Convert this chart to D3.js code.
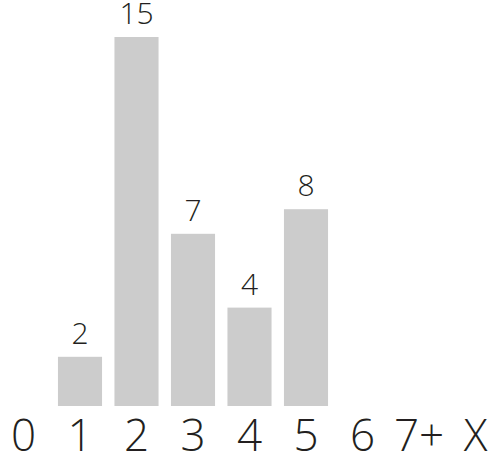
<!DOCTYPE html>
<html>
<head>
<meta charset="utf-8">
<script src="https://cdn.jsdelivr.net/npm/d3@7"></script>
<style>
  body { margin: 0; background: #fff; }
  svg { display: block; }
  text { font-family: "Open Sans", "Noto Sans", sans-serif; font-weight: 300; fill: #231f20; }
</style>
</head>
<body>
<svg id="chart" width="497" height="452"></svg>
<script>
const categories = ["0", "1", "2", "3", "4", "5", "6", "7+", "X"];
const counts = [0, 2, 15, 7, 4, 8, 0, 0, 0];

const width = 497,
    height = 452,
    baseline = 406

const svg = d3.select("#chart");

const x = d3.scaleBand()
    .domain(categories)
    .range([-4.75, 503.75])
    .paddingInner(0.22)
    .paddingOuter(0.11);

const y = d3.scaleLinear()
    .domain([0, 15])
    .range([baseline, 37]);

const data = categories.map((c, i) => ({cat: c, value: counts[i]}));
const shown = data.filter(d => d.value > 0);

svg.append("g")
    .selectAll("rect")
    .data(shown)
    .join("rect")
    .attr("x", d => x(d.cat))
    .attr("width", x.bandwidth())
    .attr("y", d => y(d.value))
    .attr("height", d => baseline - y(d.value))
    .attr("fill", "#cccccc");

// value labels above bars
svg.append("g")
    .selectAll("text")
    .data(shown)
    .join("text")
    .attr("x", d => x(d.cat) + x.bandwidth() / 2)
    .attr("y", d => y(d.value) - 13)
    .attr("text-anchor", "middle")
    .attr("font-size", 30)
    .text(d => d.value);

// category axis, no line or ticks
const axis = svg.append("g")
    .attr("transform", `translate(0,${baseline})`)
    .call(d3.axisBottom(x).tickSize(0).tickPadding(0));
axis.select(".domain").remove();
axis.selectAll("text")
    .attr("dy", null)
    .attr("y", 45)
    .attr("font-size", 44)
    .attr("font-family", null)
    .attr("fill", null);
axis.attr("font-family", null).attr("font-size", null);
</script>
</body>
</html>
